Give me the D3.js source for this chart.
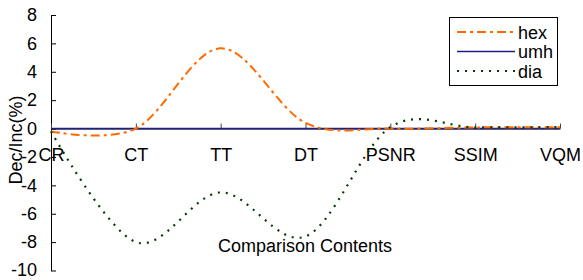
<!DOCTYPE html>
<html>
<head>
<meta charset="utf-8">
<script src="https://cdn.jsdelivr.net/npm/d3@7"></script>
<style>
  html, body { margin: 0; padding: 0; background: #fff; }
  svg { display: block; font-family: "Liberation Sans", Arial, sans-serif; }
</style>
</head>
<body>
<svg id="chart" width="583" height="280"></svg>
<script>
const categories = ["CR", "CT", "TT", "DT", "PSNR", "SSIM", "VQM"];
const hexValues = [-0.2, 0.0, 5.65, 0.4, 0.0, 0.08, 0.1];
const umhValues = [0, 0, 0, 0, 0, 0, 0];
const diaValues = [-0.2, -8.0, -4.5, -7.6, 0.1, 0.08, 0.1];
const yTicks = [8, 6, 4, 2, 0, -2, -4, -6, -8, -10];
const seriesNames = ["hex", "umh", "dia"];

const svg = d3.select("#chart");
const x = d3.scalePoint().domain(categories).range([51, 560]);
const y = d3.scaleLinear().domain([-10, 8]).range([270.5, 15]);

const fontSize = 18;

// Y axis
const yAxis = d3.axisLeft(y).tickValues(yTicks).tickSizeInner(-5).tickSizeOuter(0).tickPadding(14).tickFormat(d3.format("d"));
const gy = svg.append("g").attr("transform", "translate(51,0)").call(yAxis);
gy.select(".domain").attr("stroke", "#000").attr("stroke-width", 1);
gy.selectAll(".tick line").attr("stroke", "#000");
gy.selectAll("text").attr("font-size", fontSize).attr("fill", "#000")
  .attr("font-family", "Liberation Sans, Arial, sans-serif")
  .attr("dy", d => d === -10 ? "0.25em" : "0.32em")
  .text(d => d < 0 ? "-" + Math.abs(d) : d);

// X axis at y=0
const xAxis = d3.axisBottom(x).tickSizeInner(-5).tickSizeOuter(0).tickPadding(20);
const gx = svg.append("g").attr("transform", `translate(0,${y(0)})`).call(xAxis);
gx.select(".domain").attr("stroke", "#000").attr("stroke-width", 1);
gx.selectAll(".tick line").attr("stroke", "#444");
gx.selectAll("text").attr("font-size", fontSize).attr("fill", "#000")
  .attr("font-family", "Liberation Sans, Arial, sans-serif");

// Lines
const line = d3.line().x((d, i) => x(categories[i])).y(d => y(d)).curve(d3.curveCardinal.tension(0));

const styles = {
  hex: { color: "#ff6a00", width: 2, dash: "9,4,3,4" },
  umh: { color: "#1e1e88", width: 1.6, dash: null },
  dia: { color: "#0a3a0a", width: 2.2, dash: "2,6" }
};
const data = { hex: hexValues, umh: umhValues, dia: diaValues };

["umh", "hex", "dia"].forEach(k => {
  svg.append("path").datum(data[k]).attr("d", line)
    .attr("fill", "none").attr("stroke", styles[k].color)
    .attr("stroke-width", styles[k].width)
    .attr("stroke-dasharray", styles[k].dash);
});

// Axis titles
svg.append("text").attr("x", 305).attr("y", 252).attr("text-anchor", "middle")
  .attr("font-size", fontSize).attr("fill", "#000").text("Comparison Contents");
svg.append("text").attr("transform", "translate(22,140) rotate(-90)").attr("text-anchor", "middle")
  .attr("font-size", fontSize).attr("fill", "#000").text("Dec/Inc(%)");

// Legend
const lg = svg.append("g");
lg.append("rect").attr("x", 449.5).attr("y", 17.5).attr("width", 108).attr("height", 68)
  .attr("fill", "#fff").attr("stroke", "#000").attr("stroke-width", 1);
const legendY = [32, 51.5, 71];
seriesNames.forEach((k, i) => {
  lg.append("line").attr("x1", 457).attr("x2", 515).attr("y1", legendY[i]).attr("y2", legendY[i])
    .attr("stroke", styles[k].color).attr("stroke-width", styles[k].width)
    .attr("stroke-dasharray", styles[k].dash);
  lg.append("text").attr("x", 518).attr("y", legendY[i] + 6.5).attr("font-size", fontSize)
    .attr("fill", "#000").text(k);
});
</script>
</body>
</html>
